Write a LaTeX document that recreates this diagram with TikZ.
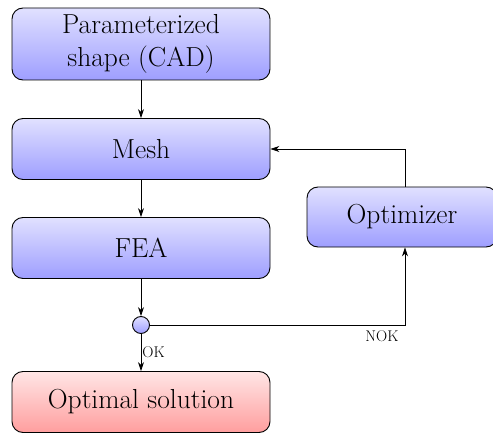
\documentclass[tikz,border=0pt]{standalone}
\usetikzlibrary{arrows.meta}
\begin{document}
\begin{tikzpicture}[x=1pt,y=-1pt,
  box/.style={draw=black,line width=0.9pt,rounded corners=11pt,top color=blue!12!white,bottom color=blue!38!white,
    minimum width=258pt,minimum height=61pt,align=center,inner sep=0pt,font=\fontsize{27.5}{33}\selectfont},
  redbox/.style={box,top color=red!10!white,bottom color=red!38!white},
  conn/.style={line width=0.8pt,-{Stealth[length=9pt,width=6pt]}},
  lab/.style={font=\fontsize{15.5}{18}\selectfont,inner sep=1pt}]
\useasboundingbox (0,0) rectangle (493,433);
\node[box,minimum height=72pt] (cad) at (141,44) {Parameterized\\shape (CAD)};
\node[box] (mesh) at (141,149) {Mesh};
\node[box] (fea) at (141,248) {FEA};
\node[draw=black,line width=0.9pt,circle,minimum size=17pt,inner sep=0pt,top color=blue!12!white,bottom color=blue!38!white] (dec) at (141,325) {};
\node[redbox] (opt) at (141,402) {Optimal solution};
\node[box,minimum width=190pt,minimum height=60pt] (optim) at (402,217) {Optimizer};
\coordinate (c1) at (405,325);
\coordinate (c2) at (405,149);
\draw[conn] (cad) -- (mesh);
\draw[conn] (mesh) -- (fea);
\draw[conn] (fea) -- (dec);
\draw[conn] (dec) -- node[lab,right,pos=0.5] {OK} (opt);
\draw[conn] (dec) -- (c1) -- (optim.south -| c1);
\draw[conn] (optim.north -| c2) -- (c2) -- (mesh.east);
\node[lab] (nok) at (382,336) {NOK};
\end{tikzpicture}
\end{document}
